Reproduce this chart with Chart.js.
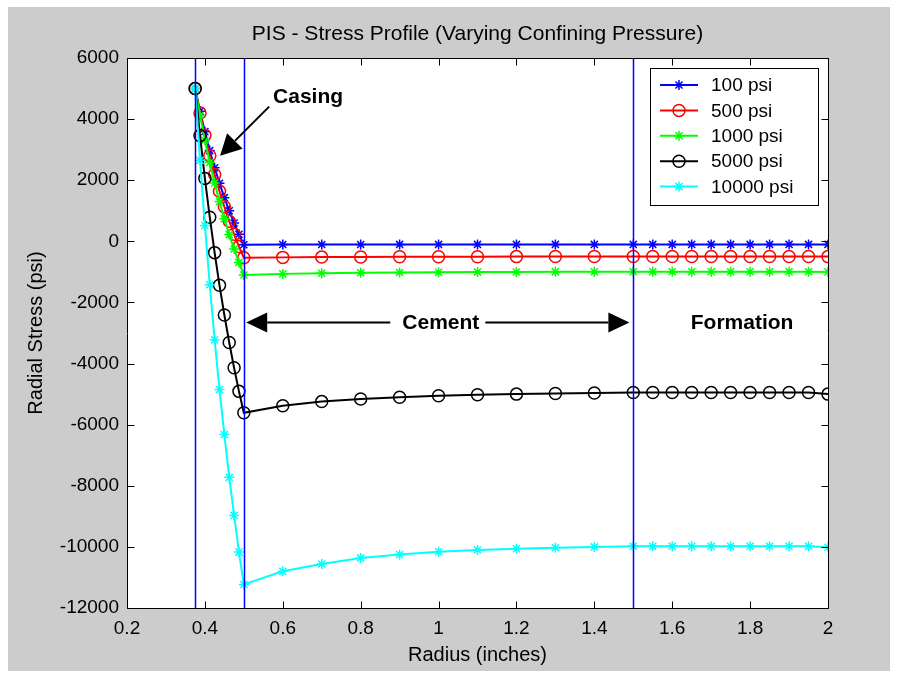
<!DOCTYPE html>
<html><head><meta charset="utf-8">
<script src="https://cdn.jsdelivr.net/npm/chart.js@4/dist/chart.umd.min.js"></script>
<style>html,body{margin:0;padding:0;background:#fff;}canvas{display:block;}</style>
</head><body>
<canvas id="c" width="899" height="677"></canvas>
<script>
// ---- data ----
const radius = [0.375,0.3875,0.4,0.4125,0.425,0.4375,0.45,0.4625,0.475,0.4875,0.5,
  0.6,0.7,0.8,0.9,1.0,1.1,1.2,1.3,1.4,1.5,
  1.55,1.6,1.65,1.7,1.75,1.8,1.85,1.9,1.95,2.0];
const psi100 = [5000,4260,3590,2970,2410,1900,1430,1000,600,230,-110,
  -105,-103,-102,-101,-101,-100,-100,-100,-100,-100,
  -100,-100,-100,-100,-100,-100,-100,-100,-100,-100];
const psi500 = [5000,4200,3470,2800,2190,1640,1130,660,230,-170,-535,
  -525,-516,-511,-507,-504,-502,-500,-499,-498,-497,
  -497,-497,-497,-497,-497,-497,-497,-497,-497,-500];
const psi1000 = [5000,4120,3310,2580,1910,1300,740,220,-250,-690,-1100,
  -1065,-1045,-1030,-1020,-1012,-1006,-1002,-999,-997,-995,
  -995,-995,-995,-995,-995,-995,-995,-995,-995,-1000];
const psi5000 = [5000,3460,2060,790,-370,-1440,-2410,-3310,-4140,-4910,-5610,
  -5380,-5245,-5160,-5100,-5055,-5020,-5000,-4980,-4965,-4950,
  -4950,-4950,-4950,-4950,-4950,-4950,-4950,-4950,-4950,-5000];
const psi10000 = [5000,2650,520,-1420,-3220,-4850,-6320,-7720,-8970,-10170,-11230,
  -10800,-10560,-10360,-10250,-10160,-10100,-10060,-10030,-10000,-9980,
  -9980,-9980,-9980,-9980,-9980,-9980,-9980,-9980,-9980,-10010];
const seriesNames = ['100 psi','500 psi','1000 psi','5000 psi','10000 psi'];
const xTicks = [0.2,0.4,0.6,0.8,1,1.2,1.4,1.6,1.8,2];
const xTickLabels = ['0.2','0.4','0.6','0.8','1','1.2','1.4','1.6','1.8','2'];
const yTicks = [-12000,-10000,-8000,-6000,-4000,-2000,0,2000,4000,6000];
const yTickLabels = ['-12000','-10000','-8000','-6000','-4000','-2000','0','2000','4000','6000'];
const boundaries = [0.375,0.5,1.5];
const chartTitle = 'PIS - Stress Profile (Varying Confining Pressure)';
const xTitle = 'Radius (inches)';
const yTitle = 'Radial Stress (psi)';
const labelCasing = 'Casing', labelCement = 'Cement', labelFormation = 'Formation';

// ---- styles ----
const FONT = '"Liberation Sans", Arial, Helvetica, sans-serif';
const styles = [
  {color:'#0000ff', marker:'star', r:5},
  {color:'#ff0000', marker:'circle', r:6},
  {color:'#00ff00', marker:'star', r:5},
  {color:'#000000', marker:'circle', r:6},
  {color:'#00ffff', marker:'star', r:5}
];
const allSeries = [psi100, psi500, psi1000, psi5000, psi10000];

function drawMarker(ctx, style, x, y, r, color, lw){
  ctx.save(); ctx.strokeStyle=color; ctx.lineWidth=lw; ctx.beginPath();
  if(style==='circle'){ ctx.arc(x,y,r,0,2*Math.PI); }
  else { for(let k=0;k<4;k++){ const a=k*Math.PI/4; ctx.moveTo(x-r*Math.cos(a),y-r*Math.sin(a)); ctx.lineTo(x+r*Math.cos(a),y+r*Math.sin(a)); } }
  ctx.stroke(); ctx.restore();
}
function drawArrow(ctx, x1,y1,x2,y2, len, half){
  const dx=x2-x1, dy=y2-y1, d=Math.hypot(dx,dy), ux=dx/d, uy=dy/d;
  const bx=x2-ux*len, by=y2-uy*len;
  ctx.save(); ctx.strokeStyle='#000'; ctx.fillStyle='#000'; ctx.lineWidth=2;
  ctx.beginPath(); ctx.moveTo(x1,y1); ctx.lineTo(bx,by); ctx.stroke();
  ctx.beginPath(); ctx.moveTo(x2,y2); ctx.lineTo(bx-uy*half, by+ux*half); ctx.lineTo(bx+uy*half, by-ux*half); ctx.closePath(); ctx.fill();
  ctx.restore();
}

const bgPlugin = {
  id:'bg',
  beforeDraw(chart){
    const ctx=chart.ctx, a=chart.chartArea;
    ctx.save();
    ctx.fillStyle='#ffffff'; ctx.fillRect(0,0,chart.width,chart.height);
    ctx.fillStyle='#cccccc'; ctx.fillRect(8,7,882,664);
    ctx.fillStyle='#ffffff'; ctx.fillRect(a.left,a.top,a.right-a.left,a.bottom-a.top);
    ctx.restore();
  }
};

const overlayPlugin = {
  id:'overlay',
  afterDatasetsDraw(chart){
    const ctx=chart.ctx, a=chart.chartArea, xs=chart.scales.x, ys=chart.scales.y;
    // boundary lines
    ctx.save(); ctx.strokeStyle='#0000ff'; ctx.lineWidth=1.5;
    boundaries.forEach(b=>{ const px=Math.round(xs.getPixelForValue(b))+0.5; ctx.beginPath(); ctx.moveTo(px,a.top); ctx.lineTo(px,a.bottom); ctx.stroke(); });
    ctx.restore();
    // annotations
    ctx.save(); ctx.fillStyle='#000'; ctx.font='bold 21px '+FONT; ctx.textBaseline='alphabetic'; ctx.textAlign='left';
    ctx.fillText(labelCasing, xs.getPixelForValue(0.575), ys.getPixelForValue(4540));
    ctx.fillText(labelCement, xs.getPixelForValue(0.907), ys.getPixelForValue(-2870));
    ctx.fillText(labelFormation, xs.getPixelForValue(1.6475), ys.getPixelForValue(-2870));
    ctx.restore();
    drawArrow(ctx, xs.getPixelForValue(0.565), ys.getPixelForValue(4410), xs.getPixelForValue(0.439), ys.getPixelForValue(2800), 21, 11);
    drawArrow(ctx, xs.getPixelForValue(0.876), ys.getPixelForValue(-2660), xs.getPixelForValue(0.506), ys.getPixelForValue(-2660), 21, 10);
    drawArrow(ctx, xs.getPixelForValue(1.12), ys.getPixelForValue(-2660), xs.getPixelForValue(1.49), ys.getPixelForValue(-2660), 21, 10);
    // frame + inward ticks
    ctx.save(); ctx.strokeStyle='#000'; ctx.lineWidth=1;
    const L=Math.round(a.left)+0.5, R=Math.round(a.right)+0.5, T=Math.round(a.top)+0.5, B=Math.round(a.bottom)+0.5;
    ctx.beginPath(); ctx.rect(L,T,R-L,B-T); ctx.stroke();
    ctx.beginPath();
    xTicks.forEach(v=>{ const px=Math.round(xs.getPixelForValue(v))+0.5; ctx.moveTo(px,B); ctx.lineTo(px,B-7); ctx.moveTo(px,T); ctx.lineTo(px,T+7); });
    yTicks.forEach(v=>{ const py=Math.round(ys.getPixelForValue(v))+0.5; ctx.moveTo(L,py); ctx.lineTo(L+7,py); ctx.moveTo(R,py); ctx.lineTo(R-7,py); });
    ctx.stroke(); ctx.restore();
    // titles
    ctx.save(); ctx.fillStyle='#000'; ctx.textAlign='center'; ctx.textBaseline='middle';
    ctx.font='21px '+FONT; ctx.fillText(chartTitle,(a.left+a.right)/2,34);
    ctx.font='20px '+FONT; ctx.fillText(xTitle,(a.left+a.right)/2,655);
    ctx.translate(36,(a.top+a.bottom)/2); ctx.rotate(-Math.PI/2); ctx.fillText(yTitle,0,0);
    ctx.restore();
    // legend
    ctx.save();
    ctx.fillStyle='#fff'; ctx.fillRect(650,68,168,137);
    ctx.strokeStyle='#000'; ctx.lineWidth=1; ctx.strokeRect(650.5,68.5,168,137);
    ctx.font='19px '+FONT; ctx.textAlign='left'; ctx.textBaseline='middle';
    seriesNames.forEach((n,i)=>{
      const y=85+i*25.4, st=styles[i];
      ctx.strokeStyle=st.color; ctx.lineWidth=2; ctx.beginPath(); ctx.moveTo(660,y); ctx.lineTo(698,y); ctx.stroke();
      drawMarker(ctx, st.marker, 679, y, st.r, st.color, 1.5);
      ctx.fillStyle='#000'; ctx.fillText(n, 711, y+1);
    });
    ctx.restore();
  }
};

const datasets = allSeries.map((vals,i)=>({
  label: seriesNames[i],
  data: radius.map((x,k)=>({x:x, y:vals[k]})),
  borderColor: styles[i].color,
  backgroundColor: 'rgba(0,0,0,0)',
  borderWidth: 2,
  pointStyle: styles[i].marker==='circle' ? 'circle' : 'star',
  pointRadius: styles[i].r,
  pointBorderWidth: 1.5,
  pointBorderColor: styles[i].color,
  pointBackgroundColor: 'rgba(0,0,0,0)',
  tension: 0,
  fill: false,
  order: 5-i
}));

const tickFont = {family: FONT, size: 19};
new Chart(document.getElementById('c'), {
  type:'line',
  data:{datasets},
  plugins:[bgPlugin, overlayPlugin],
  options:{
    responsive:false, animation:false, devicePixelRatio:1,
    layout:{padding:{top:58,right:71,left:0,bottom:0}},
    plugins:{legend:{display:false}, title:{display:false}, tooltip:{enabled:false}},
    scales:{
      x:{type:'linear', min:0.2, max:2,
        afterFit(s){ s.height=69; },
        afterBuildTicks(s){ s.ticks = xTicks.map(v=>({value:v})); },
        ticks:{callback:(v,i)=>xTickLabels[i], padding:9, font:tickFont, color:'#000', maxRotation:0, autoSkip:false},
        grid:{display:false, drawTicks:false}, border:{display:false}},
      y:{type:'linear', min:-12000, max:6000,
        afterFit(s){ s.width=127; },
        afterBuildTicks(s){ s.ticks = yTicks.map(v=>({value:v})); },
        ticks:{callback:(v,i)=>yTickLabels[i], padding:8, font:tickFont, color:'#000', autoSkip:false},
        grid:{display:false, drawTicks:false}, border:{display:false}}
    }
  }
});
</script>
</body></html>
